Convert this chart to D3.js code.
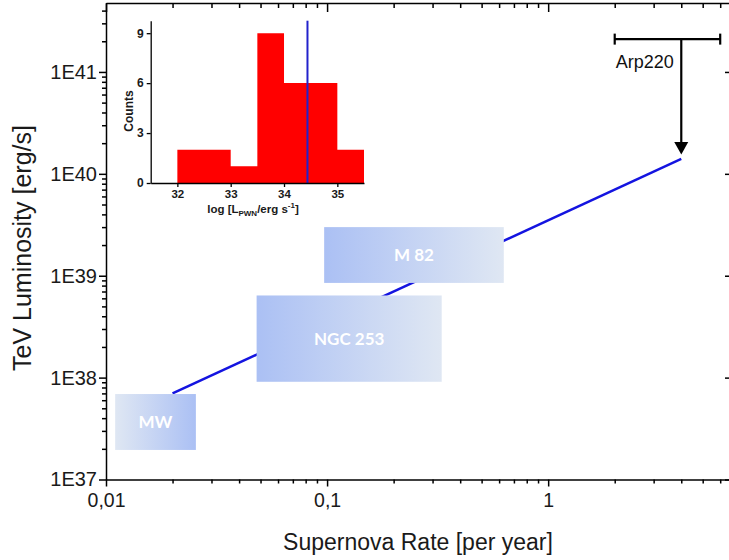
<!DOCTYPE html>
<html>
<head>
<meta charset="utf-8">
<script src="https://cdn.jsdelivr.net/npm/d3@7"></script>
<style>
  body { margin: 0; background: #fff; }
  svg { display: block; }
</style>
</head>
<body>
<svg id="chart" width="729" height="560"></svg>
<script>
// TeV luminosity of star-forming galaxies versus supernova rate,
// with an inset histogram of pulsar-wind-nebula luminosities.

const xTickValues = [0.01, 0.1, 1];
const xTickLabels = ["0,01", "0,1", "1"];
const yTickValues = [1e37, 1e38, 1e39, 1e40, 1e41];
const yTickLabels = ["1E37", "1E38", "1E39", "1E40", "1E41"];

// galaxy boxes: supernova-rate range and luminosity range
const galaxyNames    = ["MW", "NGC 253", "M 82"];
const galaxyRateLow  = [0.011, 0.048, 0.097];
const galaxyRateHigh = [0.0255, 0.33, 0.63];
const galaxyLumLow   = [1.95e37, 9.1e37, 8.5e38];
const galaxyLumHigh  = [6.9e37, 6.4e38, 3.0e39];

// linear scaling relation L ~ rate
const scalingRate = [0.02, 4];
const scalingLum  = [7e37, 1.4e40];

// Arp220 upper limit
const arpName = "Arp220";
const arpRate = [2, 4, 6];          // low, central, high
const arpLumLimit = 2.1e41;
const arpLumArrowTip = 1.55e40;

// inset histogram of log L_PWN
const binEdges  = [31.5, 32, 32.5, 33, 33.5, 34, 34.5, 35, 35.5];
const binCounts = [0, 2, 2, 1, 9, 6, 6, 2];
const markerLogL = 34.44;
const insetXTicks = [32, 33, 34, 35];
const insetYTicks = [0, 3, 6, 9];

const svg = d3.select("#chart");
const MAIN_FONT = "'Liberation Sans', Arial, sans-serif";

const x = d3.scaleLog().domain([0.01, 7]).range([106, 735]);
const y = d3.scaleLog().domain([1e37, 4.75e41]).range([479.5, 3]);

const isMajor = d => Math.abs(Math.log10(d) - Math.round(Math.log10(d))) < 1e-6;
const labelFor = (vals, labels) => d => {
  const i = vals.findIndex(v => Math.abs(v - d) / v < 1e-9);
  return i >= 0 ? labels[i] : "";
};

// ---- scaling line (behind the boxes)
svg.append("path")
  .datum(scalingRate.map((r, i) => [r, scalingLum[i]]))
  .attr("d", d3.line().x(d => x(d[0])).y(d => y(d[1])))
  .attr("fill", "none")
  .attr("stroke", "#1414e0")
  .attr("stroke-width", 2.5);

// ---- gradient boxes
const defs = svg.append("defs");
const BLUE = "#abc0f4", PALE = "#dfe7f3";
const gradientDirection = { "MW": [PALE, BLUE], "NGC 253": [BLUE, PALE], "M 82": [BLUE, PALE] };
galaxyNames.forEach((name, i) => {
  const id = "grad" + i;
  const g = defs.append("linearGradient").attr("id", id)
    .attr("x1", "0").attr("x2", "1").attr("y1", "0").attr("y2", "0");
  g.append("stop").attr("offset", "0").attr("stop-color", gradientDirection[name][0]);
  g.append("stop").attr("offset", "1").attr("stop-color", gradientDirection[name][1]);
});

const boxes = svg.append("g").selectAll("g")
  .data(galaxyNames.map((n, i) => ({
    name: n, r0: galaxyRateLow[i], r1: galaxyRateHigh[i],
    l0: galaxyLumLow[i], l1: galaxyLumHigh[i], i
  })))
  .join("g");

boxes.append("rect")
  .attr("x", d => x(d.r0))
  .attr("y", d => y(d.l1))
  .attr("width", d => x(d.r1) - x(d.r0))
  .attr("height", d => y(d.l0) - y(d.l1))
  .attr("fill", d => `url(#grad${d.i})`);

boxes.append("text")
  .attr("x", d => (x(d.r0) + x(d.r1)) / 2)
  .attr("y", d => (y(d.l0) + y(d.l1)) / 2)
  .attr("dy", "0.36em")
  .attr("text-anchor", "middle")
  .attr("fill", "#ffffff")
  .attr("font-family", "Lato, 'Open Sans', sans-serif")
  .attr("font-weight", "bold")
  .attr("font-size", 17)
  .text(d => d.name);

// ---- Arp220 upper limit
const arp = svg.append("g").attr("stroke", "#000").attr("stroke-width", 2.2);
const yArp = y(arpLumLimit);
arp.append("line").attr("x1", x(arpRate[0])).attr("x2", x(arpRate[2]))
  .attr("y1", yArp).attr("y2", yArp);
[arpRate[0], arpRate[2]].forEach(r => {
  arp.append("line").attr("x1", x(r)).attr("x2", x(r))
    .attr("y1", yArp - 5.5).attr("y2", yArp + 5.5);
});
const tipY = y(arpLumArrowTip);
arp.append("line").attr("x1", x(arpRate[1])).attr("x2", x(arpRate[1]))
  .attr("y1", yArp).attr("y2", tipY - 10);
svg.append("path")
  .attr("d", `M${x(arpRate[1]) - 7},${tipY - 12.5}L${x(arpRate[1]) + 7},${tipY - 12.5}L${x(arpRate[1])},${tipY}Z`)
  .attr("fill", "#000");
svg.append("text")
  .attr("x", x(arpRate[0]) + 1)
  .attr("y", yArp + 29)
  .attr("font-family", MAIN_FONT)
  .attr("font-size", 18)
  .attr("fill", "#111")
  .text(arpName);

// ---- main axes
function styleAxis(g) {
  g.attr("stroke-width", 1.5).attr("color", "#000");
  g.select(".domain").attr("stroke-width", 1.5);
}

const gx = svg.append("g").attr("transform", `translate(0,${y.range()[0]})`)
  .call(d3.axisBottom(x).tickValues(x.ticks()).tickFormat(labelFor(xTickValues, xTickLabels)).tickSizeOuter(0))
  .call(styleAxis);
gx.selectAll(".tick line").attr("y2", d => isMajor(d) ? 7 : 4);
gx.selectAll(".tick text").attr("y", 13.5)
  .attr("font-family", MAIN_FONT).attr("font-size", 19.5).attr("fill", "#1a1a1a");

const gy = svg.append("g").attr("transform", `translate(${x.range()[0]},0)`)
  .call(d3.axisLeft(y).tickValues(y.ticks()).tickFormat(labelFor(yTickValues, yTickLabels)).tickSizeOuter(0))
  .call(styleAxis);
gy.selectAll(".tick line").attr("x2", d => isMajor(d) ? -7 : -4);
gy.selectAll(".tick text").attr("x", -9)
  .attr("font-family", MAIN_FONT).attr("font-size", 20).attr("fill", "#1a1a1a");

const gt = svg.append("g").attr("transform", `translate(0,${y.range()[1]})`)
  .call(d3.axisTop(x).tickValues(x.ticks()).tickFormat("").tickSizeOuter(0))
  .call(styleAxis);
gt.selectAll(".tick line").attr("y2", d => isMajor(d) ? 9 : 5);

const gr = svg.append("g").attr("transform", `translate(${x.range()[1]},0)`)
  .call(d3.axisRight(y).tickValues(y.ticks()).tickFormat("").tickSizeOuter(0))
  .call(styleAxis);
gr.selectAll(".tick line").attr("x2", d => isMajor(d) ? -10 : -5);

svg.append("text")
  .attr("x", 418).attr("y", 550)
  .attr("text-anchor", "middle")
  .attr("font-family", MAIN_FONT).attr("font-size", 23).attr("fill", "#1a1a1a")
  .text("Supernova Rate [per year]");

svg.append("text")
  .attr("transform", "translate(31,248) rotate(-90)")
  .attr("text-anchor", "middle")
  .attr("font-family", MAIN_FONT).attr("font-size", 25).attr("fill", "#1a1a1a")
  .text("TeV Luminosity [erg/s]");

// ---- inset histogram
const xi = d3.scaleLinear().domain([31.5, 35.5]).range([150.7, 364]);
const yi = d3.scaleLinear().domain([0, 9.75]).range([183, 20.7]);
const inset = svg.append("g");

const steps = binCounts.map((c, i) => ({ x: binEdges[i], c }));
steps.push({ x: binEdges[binEdges.length - 1], c: binCounts[binCounts.length - 1] });
inset.append("path")
  .datum(steps)
  .attr("d", d3.area().curve(d3.curveStepAfter).x(d => xi(d.x)).y0(yi(0)).y1(d => yi(d.c)))
  .attr("fill", "#ff0000");

inset.append("line")
  .attr("x1", xi(markerLogL)).attr("x2", xi(markerLogL))
  .attr("y1", yi.range()[1]).attr("y2", yi(0))
  .attr("stroke", "#2222cc").attr("stroke-width", 2);

const INSET_FONT = "'Liberation Sans', Arial, sans-serif";
const ix = inset.append("g").attr("transform", `translate(0,${yi(0)})`)
  .call(d3.axisBottom(xi).tickValues(insetXTicks).tickFormat(d3.format("d")).tickSize(4).tickSizeOuter(0));
ix.attr("color", "#000");
ix.select(".domain").attr("stroke-width", 1.3);
ix.selectAll(".tick line").attr("stroke-width", 1.3);
ix.selectAll(".tick text").attr("y", 6.5)
  .attr("font-family", INSET_FONT).attr("font-weight", "bold").attr("font-size", 11.5).attr("fill", "#1a1a1a");

const iy = inset.append("g").attr("transform", `translate(${xi.range()[0]},0)`)
  .call(d3.axisLeft(yi).tickValues(insetYTicks).tickSize(4).tickSizeOuter(0));
iy.attr("color", "#000");
iy.select(".domain").attr("stroke-width", 1.3);
iy.selectAll(".tick line").attr("stroke-width", 1.3);
iy.selectAll(".tick text").attr("x", -7)
  .attr("font-family", INSET_FONT).attr("font-weight", "bold").attr("font-size", 12).attr("fill", "#1a1a1a");

inset.append("text")
  .attr("transform", "translate(132.5,111) rotate(-90)")
  .attr("text-anchor", "middle")
  .attr("font-family", INSET_FONT).attr("font-weight", "bold").attr("font-size", 12).attr("fill", "#1a1a1a")
  .text("Counts");

const xt = inset.append("text")
  .attr("x", 253).attr("y", 212.5)
  .attr("text-anchor", "middle")
  .attr("font-family", INSET_FONT).attr("font-weight", "bold").attr("font-size", 11.5).attr("fill", "#1a1a1a");
xt.append("tspan").text("log [L");
xt.append("tspan").attr("font-size", 8).attr("dy", 3).text("PWN");
xt.append("tspan").attr("dy", -3).text("/erg s");
xt.append("tspan").attr("font-size", 8).attr("dy", -4.5).text("-1");
xt.append("tspan").attr("dy", 4.5).text("]");
</script>
</body>
</html>
